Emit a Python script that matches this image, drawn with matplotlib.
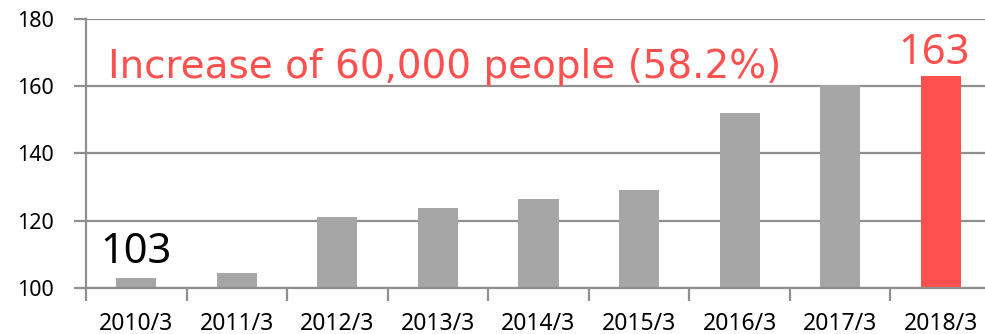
import matplotlib.pyplot as plt
from matplotlib.ticker import FixedLocator, NullFormatter

# Number of people (10,000s) at end of March each year
years = ["2010/3", "2011/3", "2012/3", "2013/3", "2014/3",
         "2015/3", "2016/3", "2017/3", "2018/3"]
people = [103, 104.5, 121.2, 123.8, 126.4, 129.1, 152.1, 160.5, 163]
y_ticks = [100, 120, 140, 160, 180]

first_label = "103"
last_label = "163"
increase_label = "Increase of 60,000 people (58.2%)"

gray = "#a6a6a6"
red = "#ff5050"
line_gray = "#8f8f8f"

plt.rcParams['font.family'] = ['Noto Sans', 'DejaVu Sans']

fig = plt.figure(figsize=(9.85, 3.34), dpi=100)
ax = fig.add_axes([86 / 985, 46 / 334, 905 / 985, 269 / 334])

x = list(range(len(years)))
colors = [gray] * (len(years) - 1) + [red]
ax.bar(x, [v - 100 for v in people], bottom=100, width=0.4,
       color=colors, zorder=3)

ax.set_xlim(-0.5, len(years) - 0.5)
ax.set_ylim(100, 180)
ax.set_yticks(y_ticks)
ax.yaxis.grid(True, color=line_gray, linewidth=1.6, zorder=0)

ax.set_xticks(x)
ax.set_xticklabels(years)
ax.xaxis.set_minor_locator(FixedLocator([i - 0.5 for i in range(len(years) + 1)]))
ax.xaxis.set_minor_formatter(NullFormatter())
ax.tick_params(axis='x', which='major', length=0, pad=17, labelsize=16.5)
ax.tick_params(axis='x', which='minor', length=9, width=1.6, color=line_gray)
ax.tick_params(axis='y', length=9, width=1.6, color=line_gray,
               pad=14, labelsize=15.5)

for side in ("top", "right"):
    ax.spines[side].set_visible(False)
for side in ("left", "bottom"):
    ax.spines[side].set_color(line_gray)
    ax.spines[side].set_linewidth(1.6)
    ax.spines[side].set_zorder(4)

ax.text(-0.36, 107.4, first_label, fontsize=30, color="black",
        ha="left", va="baseline")
ax.text(7.93, 166.7, last_label, fontsize=30, color=red,
        ha="center", va="baseline")
ax.text(-0.28, 162.5, increase_label, fontsize=28, color=red,
        ha="left", va="baseline", family="DejaVu Sans")

fig.savefig("out.png", dpi=100)
